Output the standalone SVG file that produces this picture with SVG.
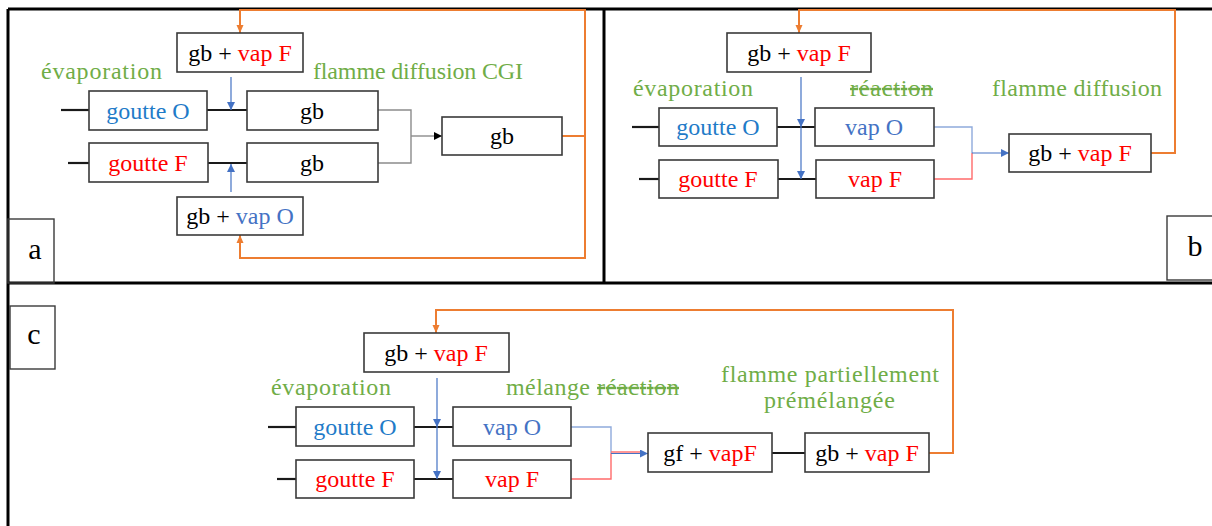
<svg xmlns="http://www.w3.org/2000/svg" width="1212" height="526" viewBox="0 0 1212 526">
<style>
  .box{fill:#fff;stroke:#3a3a3a;stroke-width:1.6}
  .frame{stroke:#000;stroke-width:3;fill:none}
  .thin{stroke:#3a3a3a;stroke-width:1.4;fill:none}
  .t{font-family:"Liberation Serif","Times New Roman",serif;font-size:24px;fill:#000;text-anchor:middle}
  .lbl{font-family:"Liberation Serif","Times New Roman",serif;font-size:24px;fill:#70AD47}
  .strike{text-decoration:line-through}
  .red{fill:#FF0000}
  .blue{fill:#1F7BC8}
  .vblue{fill:#4472C4}
  .link{stroke:#1a1a1a;stroke-width:2.2;fill:none}
  .barrow{stroke:#4472C4;stroke-width:1.2;fill:none}
  .orange{stroke:#ED7D31;stroke-width:2;fill:none}
  .gray{stroke:#8c8c8c;stroke-width:1.4;fill:none}
  .lblue{stroke:#8FAADC;stroke-width:1.4;fill:none}
  .lred{stroke:#FF6B6B;stroke-width:1.4;fill:none}
  .tag{font-family:"Liberation Serif","Times New Roman",serif;font-size:30px;fill:#000;text-anchor:middle}
</style>
<defs>
  <marker id="ab" markerUnits="userSpaceOnUse" markerWidth="8" markerHeight="8" refX="8" refY="4" orient="auto">
    <path d="M0,0 L8,4 L0,8 z" fill="#4472C4"/>
  </marker>
  <marker id="ao" markerUnits="userSpaceOnUse" markerWidth="8" markerHeight="8" refX="8" refY="4" orient="auto">
    <path d="M0,0.5 L8,4 L0,7.5 z" fill="#ED7D31"/>
  </marker>
  <marker id="ak" markerUnits="userSpaceOnUse" markerWidth="8" markerHeight="8" refX="8" refY="4" orient="auto">
    <path d="M0,0 L8,4 L0,8 z" fill="#000"/>
  </marker>
</defs>

<g id="frames">
  <line class="frame" x1="8" y1="9" x2="1212" y2="9"/>
  <line class="frame" x1="8" y1="9" x2="8" y2="526"/>
  <line class="frame" x1="604" y1="9" x2="604" y2="283"/>
  <line class="frame" x1="8" y1="283" x2="1212" y2="283"/>
  <rect class="thin" x="8" y="219" width="46" height="64"/>
  <text class="tag" x="35" y="259">a</text>
  <rect class="thin" x="1167" y="216" width="60" height="64"/>
  <text class="tag" x="1195" y="256">b</text>
  <rect class="thin" x="10" y="306" width="45" height="63"/>
  <text class="tag" x="34" y="344">c</text>
</g>

<g id="labels">
  <text class="lbl" x="41" y="79" textLength="121">évaporation</text>
  <text class="lbl" x="313" y="79" textLength="210">flamme diffusion CGI</text>
  <text class="lbl" x="633" y="96" textLength="120">évaporation</text>
  <text class="lbl strike" x="850" y="96" textLength="83">réaction</text>
  <text class="lbl" x="992" y="96" textLength="170">flamme diffusion</text>
  <text class="lbl" x="271" y="395" textLength="120">évaporation</text>
  <text class="lbl" x="506" y="395" textLength="84">mélange</text>
  <text class="lbl strike" x="597" y="395" textLength="82">réaction</text>
  <text class="lbl" x="721" y="382" textLength="218">flamme partiellement</text>
  <text class="lbl" x="764" y="408" textLength="131">prémélangée</text>
</g>

<g id="connectors">
  <!-- panel a -->
  <line class="link" x1="61" y1="110" x2="89" y2="110"/>
  <line class="link" x1="207" y1="110" x2="247" y2="110"/>
  <line class="link" x1="68" y1="163" x2="89" y2="163"/>
  <line class="link" x1="208" y1="163" x2="247" y2="163"/>
  <line class="barrow" x1="231" y1="77" x2="231" y2="110" marker-end="url(#ab)"/>
  <line class="barrow" x1="231" y1="192" x2="231" y2="164" marker-end="url(#ab)"/>
  <polyline class="gray" points="378,110 411,110 411,163 378,163"/>
  <line class="gray" x1="411" y1="136" x2="442" y2="136" stroke="#333" marker-end="url(#ak)"/>
  <polyline class="orange" points="562,136 585,136 585,10 240,10 240,33" marker-end="url(#ao)"/>
  <polyline class="orange" points="585,136 585,258 240,258 240,235" marker-end="url(#ao)"/>
  <!-- panel b -->
  <line class="link" x1="632" y1="127" x2="659" y2="127"/>
  <line class="link" x1="777" y1="127" x2="815" y2="127"/>
  <line class="link" x1="639" y1="179" x2="659" y2="179"/>
  <line class="link" x1="778" y1="179" x2="816" y2="179"/>
  <line class="barrow" x1="801" y1="77" x2="801" y2="127" marker-end="url(#ab)"/>
  <line class="barrow" x1="801" y1="127" x2="801" y2="179" marker-end="url(#ab)"/>
  <polyline class="lblue" points="934,127 972,127 972,153"/>
  <polyline class="lred" points="934,179 972,179 972,153"/>
  <line class="barrow" x1="972" y1="153" x2="1009" y2="153" marker-end="url(#ab)"/>
  <polyline class="orange" points="1151,153 1175,153 1175,10 799,10 799,33" marker-end="url(#ao)"/>
  <!-- panel c -->
  <line class="link" x1="268" y1="427" x2="296" y2="427"/>
  <line class="link" x1="414" y1="427" x2="453" y2="427"/>
  <line class="link" x1="277" y1="479" x2="296" y2="479"/>
  <line class="link" x1="414" y1="479" x2="453" y2="479"/>
  <line class="link" x1="772" y1="453" x2="805" y2="453"/>
  <line class="barrow" x1="437" y1="378" x2="437" y2="427" marker-end="url(#ab)"/>
  <line class="barrow" x1="437" y1="427" x2="437" y2="479" marker-end="url(#ab)"/>
  <polyline class="lblue" points="571,427 611,427 611,453"/>
  <polyline class="lred" points="571,479 611,479 611,453"/>
  <line class="barrow" x1="611" y1="453.5" x2="648" y2="453.5" marker-end="url(#ab)"/>
  <line class="lred" x1="611" y1="452" x2="640" y2="452"/>
  <polyline class="orange" points="929,453 953,453 953,310 436,310 436,333" marker-end="url(#ao)"/>
</g>

<g id="a_top"><rect class="box" x="177" y="33" width="126" height="39"/><text class="t" x="240" y="61">gb + <tspan class="red">vap F</tspan></text></g>
<g id="a_gO"><rect class="box" x="89" y="91" width="118" height="39"/><text class="t" x="148" y="119"><tspan class="blue">goutte O</tspan></text></g>
<g id="a_gb1"><rect class="box" x="247" y="91" width="131" height="39"/><text class="t" x="312" y="119">gb</text></g>
<g id="a_gF"><rect class="box" x="89" y="143" width="119" height="39"/><text class="t" x="148" y="171"><tspan class="red">goutte F</tspan></text></g>
<g id="a_gb2"><rect class="box" x="247" y="143" width="131" height="39"/><text class="t" x="312" y="171">gb</text></g>
<g id="a_gb3"><rect class="box" x="442" y="117" width="120" height="38"/><text class="t" x="502" y="144">gb</text></g>
<g id="a_bot"><rect class="box" x="177" y="197" width="126" height="38"/><text class="t" x="240" y="224">gb + <tspan class="vblue">vap O</tspan></text></g>

<g id="b_top"><rect class="box" x="727" y="33" width="144" height="39"/><text class="t" x="799" y="61">gb + <tspan class="red">vap F</tspan></text></g>
<g id="b_gO"><rect class="box" x="659" y="108" width="118" height="38"/><text class="t" x="718" y="135"><tspan class="blue">goutte O</tspan></text></g>
<g id="b_vO"><rect class="box" x="815" y="108" width="119" height="38"/><text class="t" x="874" y="135"><tspan class="vblue">vap O</tspan></text></g>
<g id="b_gF"><rect class="box" x="659" y="160" width="119" height="38"/><text class="t" x="718" y="187"><tspan class="red">goutte F</tspan></text></g>
<g id="b_vF"><rect class="box" x="816" y="160" width="118" height="38"/><text class="t" x="875" y="187"><tspan class="red">vap F</tspan></text></g>
<g id="b_out"><rect class="box" x="1009" y="134" width="142" height="38"/><text class="t" x="1080" y="161">gb + <tspan class="red">vap F</tspan></text></g>

<g id="c_top"><rect class="box" x="364" y="333" width="145" height="39"/><text class="t" x="436" y="361">gb + <tspan class="red">vap F</tspan></text></g>
<g id="c_gO"><rect class="box" x="296" y="407" width="118" height="39"/><text class="t" x="355" y="435"><tspan class="blue">goutte O</tspan></text></g>
<g id="c_vO"><rect class="box" x="453" y="407" width="118" height="39"/><text class="t" x="512" y="435"><tspan class="vblue">vap O</tspan></text></g>
<g id="c_gF"><rect class="box" x="296" y="460" width="118" height="38"/><text class="t" x="355" y="487"><tspan class="red">goutte F</tspan></text></g>
<g id="c_vF"><rect class="box" x="453" y="460" width="118" height="38"/><text class="t" x="512" y="487"><tspan class="red">vap F</tspan></text></g>
<g id="c_gf"><rect class="box" x="648" y="433" width="124" height="39"/><text class="t" x="710" y="461">gf + <tspan class="red">vapF</tspan></text></g>
<g id="c_gb"><rect class="box" x="805" y="433" width="124" height="39"/><text class="t" x="867" y="461">gb + <tspan class="red">vap F</tspan></text></g>
</svg>
